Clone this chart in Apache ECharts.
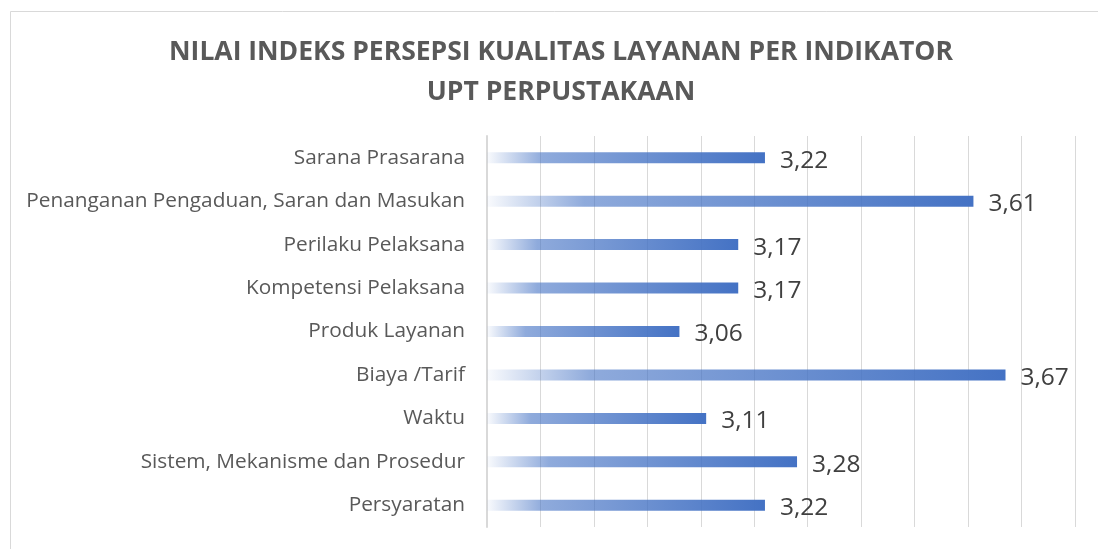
<!DOCTYPE html>
<html>
<head>
<meta charset="utf-8">
<script src="https://cdn.jsdelivr.net/npm/echarts@6/dist/echarts.min.js"></script>
<style>
  html, body { margin: 0; padding: 0; background: #fff; }
  #chart { width: 1098px; height: 549px; }
</style>
</head>
<body>
<div id="chart"></div>
<script>
// categories from top to bottom
const categories = [
  'Sarana Prasarana',
  'Penanganan Pengaduan, Saran dan Masukan',
  'Perilaku Pelaksana',
  'Kompetensi Pelaksana',
  'Produk Layanan',
  'Biaya /Tarif',
  'Waktu',
  'Sistem, Mekanisme dan Prosedur',
  'Persyaratan'
];
const values = [3.22, 3.61, 3.17, 3.17, 3.06, 3.67, 3.11, 3.28, 3.22];

const axisMin = 2.7;
const axisMax = 3.8;
const axisStep = 0.1;

const chart = echarts.init(document.getElementById('chart'));

const option = {
  animation: false,
  backgroundColor: '#fff',
  title: {
    text: 'NILAI INDEKS PERSEPSI KUALITAS LAYANAN PER INDIKATOR\nUPT PERPUSTAKAAN',
    left: 556,
    textAlign: 'center',
    top: 27,
    textStyle: {
      fontFamily: 'Open Sans',
      fontWeight: 'bold',
      fontSize: 26.5,
      lineHeight: 40,
      color: '#595959'
    }
  },
  graphic: [
    {
      type: 'rect',
      shape: { x: 10.5, y: 11.5, width: 1100, height: 560 },
      style: { fill: 'none', stroke: '#d9d9d9', lineWidth: 1 },
      silent: true
    }
  ],
  grid: {
    left: 487,
    right: 23,
    top: 136,
    bottom: 22
  },
  xAxis: {
    type: 'value',
    min: axisMin,
    max: axisMax,
    interval: axisStep,
    axisLabel: { show: false },
    axisTick: { show: false },
    axisLine: { show: false },
    splitLine: { show: true, lineStyle: { color: '#d9d9d9', width: 1 } }
  },
  yAxis: {
    type: 'category',
    inverse: true,
    data: categories,
    axisTick: { show: false },
    axisLine: { show: true, lineStyle: { color: '#d9d9d9', width: 2 } },
    axisLabel: {
      margin: 22,
      fontFamily: 'Open Sans',
      fontSize: 20.8,
      color: '#595959'
    }
  },
  series: [
    {
      type: 'bar',
      data: values,
      barWidth: 11,
      itemStyle: {
        color: new echarts.graphic.LinearGradient(0, 0, 1, 0, [
          { offset: 0, color: 'rgba(68,114,196,0.03)' },
          { offset: 0.2, color: 'rgba(68,114,196,0.6)' },
          { offset: 1, color: '#4472C4' }
        ])
      },
      label: {
        show: true,
        position: 'right',
        distance: 15,
        offset: [0, 3],
        fontFamily: 'Open Sans',
        fontSize: 24.5,
        color: '#404040',
        formatter: (p) => p.value.toFixed(2).replace('.', ',')
      }
    }
  ]
};

chart.setOption(option);
</script>
</body>
</html>
